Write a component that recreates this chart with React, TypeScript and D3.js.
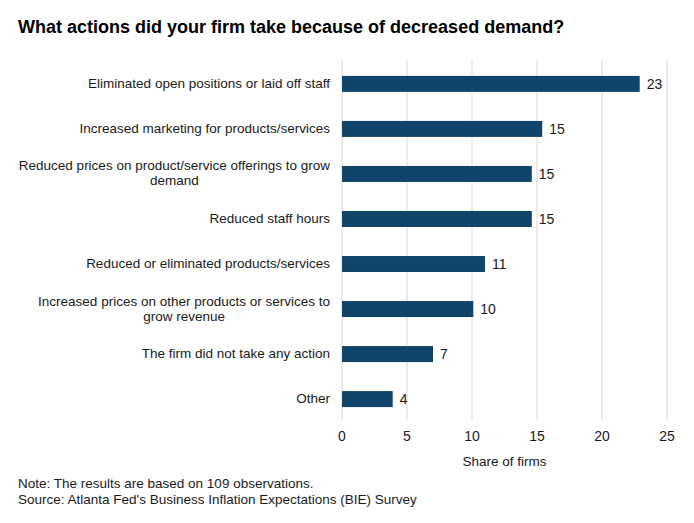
import React from 'react';
import * as d3 from 'd3';

const categories: string[][] = [
  ['Eliminated open positions or laid off staff'],
  ['Increased marketing for products/services'],
  ['Reduced prices on product/service offerings to grow', 'demand'],
  ['Reduced staff hours'],
  ['Reduced or eliminated products/services'],
  ['Increased prices on other products or services to', 'grow revenue'],
  ['The firm did not take any action'],
  ['Other'],
];
const shares = [22.9, 15.4, 14.6, 14.6, 11.0, 10.1, 7.0, 3.9];
const xTicks = [0, 5, 10, 15, 20, 25];

const title = 'What actions did your firm take because of decreased demand?';
const notes = [
  'Note: The results are based on 109 observations.',
  "Source: Atlanta Fed's Business Inflation Expectations (BIE) Survey",
];

const W = 694;
const H = 523;
const FONT = '"Liberation Sans", Arial, sans-serif';

const App: React.FC = () => {
  // plot area
  const left = 342;
  const right = 667;
  const top = 61.5;
  const bottom = 421.5;

  const x = d3.scaleLinear().domain([0, 25]).range([left, right]);
  const y = d3
    .scaleBand<number>()
    .domain(d3.range(shares.length))
    .range([top, bottom])
    .paddingInner(0.645)
    .paddingOuter(0.32);
  const fmt = d3.format('.0f');

  return (
    <svg
      width={W}
      height={H}
      style={{ position: 'absolute', left: 0, top: 0, background: '#fff' }}
      fontFamily={FONT}
    >
      <rect width={W} height={H} fill="#fff" />
      <text x={18} y={33} fontSize={18} fontWeight="bold" fill="#000">
        {title}
      </text>

      {/* gridlines */}
      {xTicks.map((t) => (
        <line
          key={t}
          x1={x(t)}
          x2={x(t)}
          y1={top - 1}
          y2={bottom - 2}
          stroke="#d9d9d9"
          strokeWidth={1}
        />
      ))}

      {/* bars */}
      {shares.map((v, i) => {
        const y0 = y(i)!;
        const c = y0 + y.bandwidth() / 2;
        return (
          <g key={i}>
            <rect x={x(0)} y={y0} width={x(v) - x(0)} height={y.bandwidth()} fill="#10446a" />
            <text x={x(v) + 7} y={c + 5} fontSize={14} fill="#1a1a1a">
              {fmt(v)}
            </text>
          </g>
        );
      })}

      {/* category labels */}
      {categories.map((lines, i) => {
        const c = y(i)! + y.bandwidth() / 2;
        if (lines.length === 1) {
          return (
            <text key={i} x={330} y={c + 4} fontSize={13.5} textAnchor="end" fill="#1a1a1a">
              {lines[0]}
            </text>
          );
        }
        return <MultiLabel key={i} lines={lines} cy={c} rightX={330} />;
      })}

      {/* x axis tick labels */}
      {xTicks.map((t) => (
        <text key={t} x={x(t)} y={441} fontSize={14} textAnchor="middle" fill="#1a1a1a">
          {t}
        </text>
      ))}
      <text x={(left + right) / 2} y={466} fontSize={13.5} textAnchor="middle" fill="#1a1a1a">
        Share of firms
      </text>

      {notes.map((n, i) => (
        <text key={i} x={18} y={488 + i * 16} fontSize={13.5} fill="#1a1a1a">
          {n}
        </text>
      ))}
    </svg>
  );
};

// two-line label: lines centred on each other, whole block right-aligned
const MultiLabel: React.FC<{ lines: string[]; cy: number; rightX: number }> = ({ lines, cy, rightX }) => {
  const ref = React.useRef<SVGGElement>(null);
  React.useLayoutEffect(() => {
    if (!ref.current) return;
    const g = d3.select(ref.current);
    const texts = g.selectAll<SVGTextElement, unknown>('text').nodes();
    const widest = d3.max(texts, (t) => t.getComputedTextLength()) ?? 0;
    g.selectAll('text').attr('x', rightX - widest / 2);
  }, [lines, rightX]);
  const lh = 15;
  const first = cy + 4 - ((lines.length - 1) * lh) / 2;
  return (
    <g ref={ref}>
      {lines.map((l, j) => (
        <text key={j} x={rightX} y={first + j * lh} fontSize={13.5} textAnchor="middle" fill="#1a1a1a">
          {l}
        </text>
      ))}
    </g>
  );
};

export default App;
